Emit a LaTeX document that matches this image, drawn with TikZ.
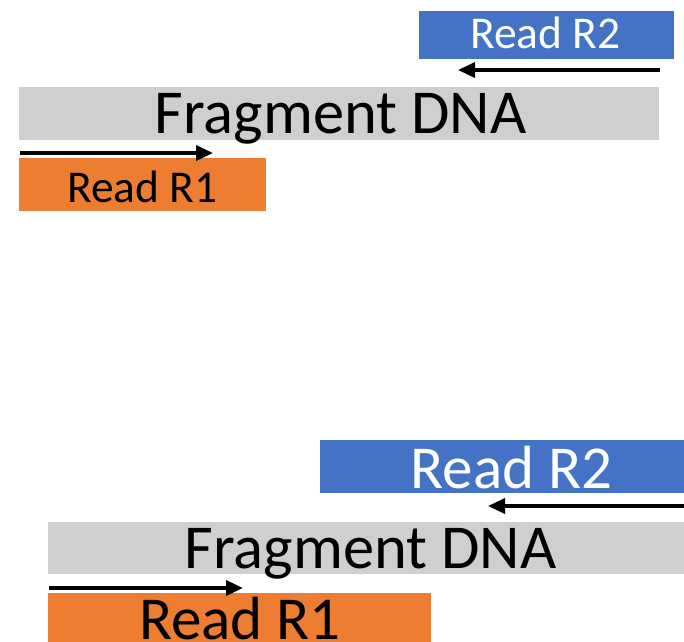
\documentclass[tikz,border=0pt]{standalone}
\usepackage{fontspec}
\setmainfont{Carlito}
\usetikzlibrary{arrows.meta}
\definecolor{rblue}{HTML}{4472C4}
\definecolor{rorange}{HTML}{ED7D31}
\definecolor{rgray}{HTML}{D0CECE}
\tikzset{
  bar/.style={inner sep=0pt, outer sep=0pt, anchor=north west},
  lbl/.style={inner sep=0pt, anchor=base},
  dirarrow/.style={line width=3.5pt, -{Triangle[length=17pt,width=15pt]}}
}
\begin{document}
\begin{tikzpicture}[x=1pt,y=-1pt]
\useasboundingbox (0,0) rectangle (684,641);
% ---- top ----
\node[bar, fill=rblue, minimum width=255pt, minimum height=48pt] (r2a) at (419,11) {};
\node[bar, fill=rgray, minimum width=640pt, minimum height=53pt] (fa) at (19,87) {};
\node[bar, fill=rorange, minimum width=247pt, minimum height=53pt] (r1a) at (19,158) {};
\node[lbl, text=white, font=\fontsize{45.5}{50}\selectfont] (t2a) at (545.5,48) {Read R2};
\node[lbl, font=\fontsize{62.5}{70}\selectfont] (tfa) at (340.5,133) {Fragment DNA};
\node[lbl, font=\fontsize{45.5}{50}\selectfont] (t1a) at (142.5,202) {Read R1};
\coordinate (a2s) at (660,70);
\coordinate (a2e) at (458,70);
\coordinate (a1s) at (20,153);
\coordinate (a1e) at (213,153);
\draw[dirarrow] (a2s) -- (a2e);
\draw[dirarrow] (a1s) -- (a1e);
% ---- bottom ----
\node[bar, fill=rblue, minimum width=380pt, minimum height=53pt] (r2b) at (320,440) {};
\node[bar, fill=rgray, minimum width=650pt, minimum height=52pt] (fb) at (48,522) {};
\node[bar, fill=rorange, minimum width=383pt, minimum height=60pt] (r1b) at (48,593) {};
\node[lbl, text=white, font=\fontsize{61}{66}\selectfont] (t2b) at (511.5,488) {Read R2};
\node[lbl, font=\fontsize{62.5}{70}\selectfont] (tfb) at (370.5,568) {Fragment DNA};
\node[lbl, font=\fontsize{61}{66}\selectfont] (t1b) at (240,639) {Read R1};
\coordinate (b2s) at (690,506);
\coordinate (b2e) at (488,506);
\coordinate (b1s) at (49,588);
\coordinate (b1e) at (243,588);
\draw[dirarrow] (b2s) -- (b2e);
\draw[dirarrow] (b1s) -- (b1e);
\end{tikzpicture}
\end{document}
